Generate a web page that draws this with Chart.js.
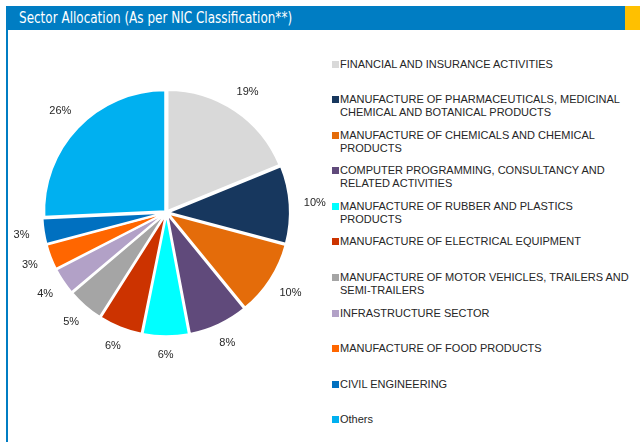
<!DOCTYPE html>
<html>
<head>
<meta charset="utf-8">
<script src="https://cdn.jsdelivr.net/npm/chart.js@4.4.1/dist/chart.umd.min.js"></script>
<style>
  html,body{margin:0;padding:0;background:#fff;width:640px;height:442px;overflow:hidden;}
  #hdr{position:absolute;left:6px;top:6px;width:619px;height:24px;background:#007DC3;}
  #hdr span{position:absolute;left:13px;top:2px;color:#fff;font-family:"DejaVu Sans Condensed","DejaVu Sans",sans-serif;font-size:15px;line-height:20px;white-space:nowrap;transform:scaleX(0.89);transform-origin:0 50%;}
  #ylw{position:absolute;left:625px;top:6px;width:15px;height:24px;background:#FFC000;}
  #lb{position:absolute;left:6px;top:30px;width:2px;height:412px;background:#007DC3;}
  #cw{position:absolute;left:0;top:0;width:330px;height:442px;}
  #legend{position:absolute;left:332px;top:0;width:308px;height:442px;font-family:"Liberation Sans",Arial,sans-serif;font-size:11px;color:#262626;}
  .li{position:absolute;left:0;line-height:12.5px;}
  .sw{position:absolute;left:0;top:3px;width:7px;height:7px;}
  .tx{position:absolute;left:8px;top:0;white-space:nowrap;}
</style>
</head>
<body>
<div id="hdr"><span id="title"></span></div>
<div id="ylw"></div>
<div id="lb"></div>
<div id="cw"><canvas id="c" width="330" height="442"></canvas></div>
<div id="legend"></div>
<script>
const titleText = "Sector Allocation (As per NIC Classification**)";
const categories = [
  ["FINANCIAL AND INSURANCE ACTIVITIES"],
  ["MANUFACTURE OF PHARMACEUTICALS, MEDICINAL", "CHEMICAL AND BOTANICAL PRODUCTS"],
  ["MANUFACTURE OF CHEMICALS AND CHEMICAL", "PRODUCTS"],
  ["COMPUTER PROGRAMMING, CONSULTANCY AND", "RELATED ACTIVITIES"],
  ["MANUFACTURE OF RUBBER AND PLASTICS", "PRODUCTS"],
  ["MANUFACTURE OF ELECTRICAL EQUIPMENT"],
  ["MANUFACTURE OF MOTOR VEHICLES, TRAILERS AND", "SEMI-TRAILERS"],
  ["INFRASTRUCTURE SECTOR"],
  ["MANUFACTURE OF FOOD PRODUCTS"],
  ["CIVIL ENGINEERING"],
  ["Others"]
];
const values = [18.7, 10.3, 9.9, 7.9, 6.1, 5.8, 4.8, 3.6, 3.4, 3.4, 25.6];
const valueLabels = ["19%", "10%", "10%", "8%", "6%", "6%", "5%", "4%", "3%", "3%", "26%"];
const colors = ["#D9D9D9", "#17375E", "#E46C0A", "#604A7B", "#00FFFF", "#CC3300", "#A5A5A5", "#B2A1C7", "#FF6600", "#0070C0", "#00B0F0"];

document.getElementById('title').textContent = titleText;

// HTML legend built from arrays
const legendTops = [58, 93, 129, 164, 200, 235, 271, 307, 342, 378, 413];
const lg = document.getElementById('legend');
categories.forEach((lines, i) => {
  const d = document.createElement('div');
  d.className = 'li';
  d.style.top = legendTops[i] + 'px';
  const sw = document.createElement('div');
  sw.className = 'sw';
  sw.style.background = colors[i];
  const tx = document.createElement('div');
  tx.className = 'tx';
  tx.innerHTML = lines.map(s => s.replace(/&/g,'&amp;').replace(/</g,'&lt;')).join('<br>');
  d.appendChild(sw); d.appendChild(tx);
  lg.appendChild(d);
});

const outLabels = {
  id: 'outLabels',
  afterDatasetsDraw(chart) {
    const ctx = chart.ctx;
    const meta = chart.getDatasetMeta(0);
    ctx.save();
    ctx.font = '11px "Liberation Sans", Arial, sans-serif';
    ctx.fillStyle = '#262626';
    ctx.textAlign = 'center';
    ctx.textBaseline = 'middle';
    meta.data.forEach((arc, i) => {
      const p = arc.getProps(['x','y','startAngle','endAngle','outerRadius'], true);
      const mid = (p.startAngle + p.endAngle) / 2;
      const w = ctx.measureText(valueLabels[i]).width;
      const r = p.outerRadius + 7 + 14 + (w / 2) * Math.abs(Math.cos(mid)) * 0.6;
      ctx.fillText(valueLabels[i], p.x + Math.cos(mid) * r, p.y + Math.sin(mid) * r);
    });
    ctx.restore();
  }
};

new Chart(document.getElementById('c'), {
  type: 'pie',
  data: {
    labels: categories,
    datasets: [{
      data: values,
      backgroundColor: colors,
      borderColor: '#ffffff',
      borderWidth: 2,
      offset: 7
    }]
  },
  options: {
    responsive: false,
    animation: false,
    events: [],
    layout: { padding: { left: 41, right: 38, top: 87, bottom: 104 } },
    plugins: {
      legend: { display: false },
      tooltip: { enabled: false }
    }
  },
  plugins: [outLabels]
});
</script>
</body>
</html>
